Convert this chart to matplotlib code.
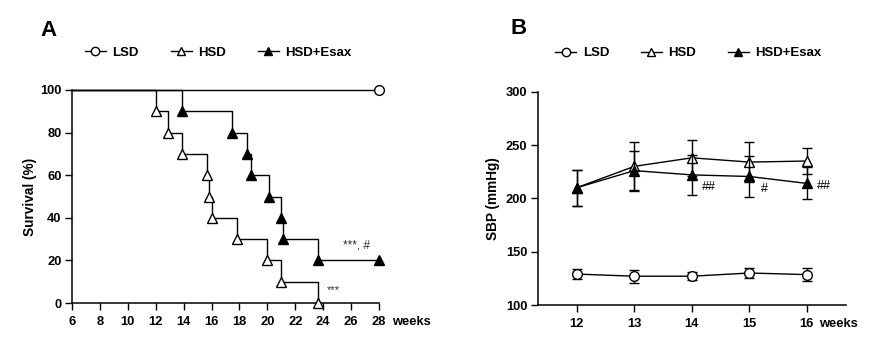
import matplotlib
matplotlib.use("Agg")
import matplotlib.pyplot as plt
from matplotlib.lines import Line2D

plt.rcParams['font.family'] = ['Liberation Sans', 'DejaVu Sans']
plt.rcParams['font.weight'] = 'bold'

# ---------------- Panel A data (Kaplan-Meier survival) ----------------
start_week = 6
end_week = 28
lsd_times = []
lsd_surv = []
hsd_times = [12, 12.85, 13.85, 15.7, 15.85, 16.0, 17.85, 19.95, 21.0, 23.6]
hsd_surv = [90, 80, 70, 60, 50, 40, 30, 20, 10, 0]
esax_times = [13.85, 17.45, 18.55, 18.85, 20.15, 21.0, 21.15, 23.6]
esax_surv = [90, 80, 70, 60, 50, 40, 30, 20]
a_xticks = [6, 8, 10, 12, 14, 16, 18, 20, 22, 24, 26, 28]
a_yticks = [0, 20, 40, 60, 80, 100]

# ---------------- Panel B data (SBP) ----------------
weeks_b = [12, 13, 14, 15, 16]
lsd_sbp = [129, 127, 127, 130, 128.5]
lsd_err = [5, 6, 4, 5, 6]
hsd_sbp = [210, 230, 238, 234, 235]
hsd_err = [17, 23, 17, 18.5, 12.5]
esax_sbp = [210, 226, 222, 220.5, 214]
esax_err = [17, 18, 19, 19.5, 15]
b_annot = ['', '', '##', '#', '##']
b_yticks = [100, 150, 200, 250, 300]

labels = ['LSD', 'HSD', 'HSD+Esax']

fig = plt.figure(figsize=(8.72, 3.41), dpi=100)
axA = fig.add_axes([72/872, 1-303/341, 307/872, 213/341])
axB = fig.add_axes([537.7/872, 1-305/341, 308.3/872, 213.3/341])

lw = 1.0
ms = 7
TICKLEN = 5
XPAD = 4.5
YPAD = 2.5
TICKFS = 9.3
LABFS = 9.8


def km_step(times, surv, last):
    xs = [start_week]
    ys = [100]
    prev = 100
    for t, s in zip(times, surv):
        xs += [t, t]
        ys += [prev, s]
        prev = s
    if last is not None:
        xs.append(last)
        ys.append(prev)
    return xs, ys

# LSD: flat line at 100 to end
xs, ys = km_step(lsd_times, lsd_surv, end_week)
axA.plot(xs, ys, color='black', lw=lw, clip_on=False, zorder=3)
axA.plot([end_week], [100], 'o', mfc='white', mec='black', ms=ms, mew=1.0, clip_on=False, zorder=4)

xs, ys = km_step(hsd_times, hsd_surv, None)
axA.plot(xs, ys, color='black', lw=lw, clip_on=False, zorder=3)
axA.plot(hsd_times, hsd_surv, '^', mfc='white', mec='black', ms=ms, mew=1.0, clip_on=False, zorder=4)

xs, ys = km_step(esax_times, esax_surv, end_week)
axA.plot(xs, ys, color='black', lw=lw, clip_on=False, zorder=3)
axA.plot(esax_times + [end_week], esax_surv + [esax_surv[-1]], '^', mfc='black', mec='black', ms=ms,
         clip_on=False, zorder=4)

axA.set_xlim(6, 28)
axA.set_ylim(0, 100)
axA.set_xticks(a_xticks)
axA.set_xticklabels([str(t) for t in a_xticks])
axA.set_yticks(a_yticks)
axA.set_ylabel('Survival (%)', fontsize=LABFS, fontweight='bold', labelpad=2)
axA.annotate('weeks', xy=(28, 0), xycoords=('data', 'axes fraction'),
             xytext=(9.5, -(TICKLEN + XPAD)),
             textcoords='offset points', ha='left', va='top', fontsize=TICKFS, fontweight='bold')
axA.text(25.4, 27, '***, #', fontsize=8.5, fontweight='normal', color='#333333', ha='left', va='center')
axA.text(24.25, 6, '***', fontsize=8, fontweight='normal', color='#333333', ha='left', va='center')

# Panel B
axB.errorbar(weeks_b, lsd_sbp, yerr=lsd_err, fmt='-o', color='black', mfc='white', mec='black',
             ms=ms, lw=lw, elinewidth=1.0, capsize=3.5, capthick=1.0, zorder=3)
axB.errorbar(weeks_b, hsd_sbp, yerr=hsd_err, fmt='-^', color='black', mfc='white', mec='black',
             ms=ms, lw=lw, elinewidth=1.0, capsize=3.5, capthick=1.0, zorder=3)
axB.errorbar(weeks_b, esax_sbp, yerr=esax_err, fmt='-^', color='black', mfc='black', mec='black',
             ms=ms, lw=lw, elinewidth=1.0, capsize=3.5, capthick=1.0, zorder=4)
annot_dx = [7, 7, 7, 8, 7]
annot_dy = [-8, -8, -8.5, -9, -2]
for w, v, a, dx, dy in zip(weeks_b, esax_sbp, b_annot, annot_dx, annot_dy):
    if a:
        axB.annotate(a, xy=(w, v), xytext=(dx, dy), textcoords='offset points', ha='left', va='center',
                     fontsize=9, fontweight='normal')

axB.set_xlim(11.32, 16.68)
axB.set_ylim(100, 300)
axB.set_xticks(weeks_b)
axB.set_xticklabels([str(w) for w in weeks_b])
axB.set_yticks(b_yticks)
axB.set_ylabel('SBP (mmHg)', fontsize=LABFS, fontweight='bold', labelpad=4)
axB.annotate('weeks', xy=(16, 0), xycoords=('data', 'axes fraction'),
             xytext=(8.5, -(TICKLEN + XPAD)),
             textcoords='offset points', ha='left', va='top', fontsize=TICKFS, fontweight='bold')

for ax in (axA, axB):
    for s in ('top', 'right'):
        ax.spines[s].set_visible(False)
    for s in ('left', 'bottom'):
        ax.spines[s].set_linewidth(1.1)
    ax.tick_params(axis='both', length=TICKLEN, width=1.0, labelsize=TICKFS)
    ax.tick_params(axis='x', pad=XPAD)
    ax.tick_params(axis='y', pad=YPAD)
    for lab in ax.get_xticklabels() + ax.get_yticklabels():
        lab.set_fontweight('bold')


def handles():
    return [
        Line2D([], [], color='black', lw=lw, marker='o', mfc='white', mec='black', ms=6),
        Line2D([], [], color='black', lw=lw, marker='^', mfc='white', mec='black', ms=6),
        Line2D([], [], color='black', lw=lw, marker='^', mfc='black', mec='black', ms=6),
    ]

for ax, x0, y0 in ((axA, 0.042, 1.174), (axB, 0.056, 1.18)):
    ax.legend(handles(), labels, ncol=3, loc='center left', bbox_to_anchor=(x0, y0),
              frameon=False, borderpad=0, borderaxespad=0, handlelength=1.6, handletextpad=0.5,
              columnspacing=2.4, prop={'size': 9.5, 'weight': 'bold'})

fig.text(40/872, 1-30/341, 'A', fontsize=16, fontweight='bold', ha='left', va='center')
fig.text(511/872, 1-28/341, 'B', fontsize=16, fontweight='bold', ha='left', va='center')

fig.savefig('out.png', dpi=100)
